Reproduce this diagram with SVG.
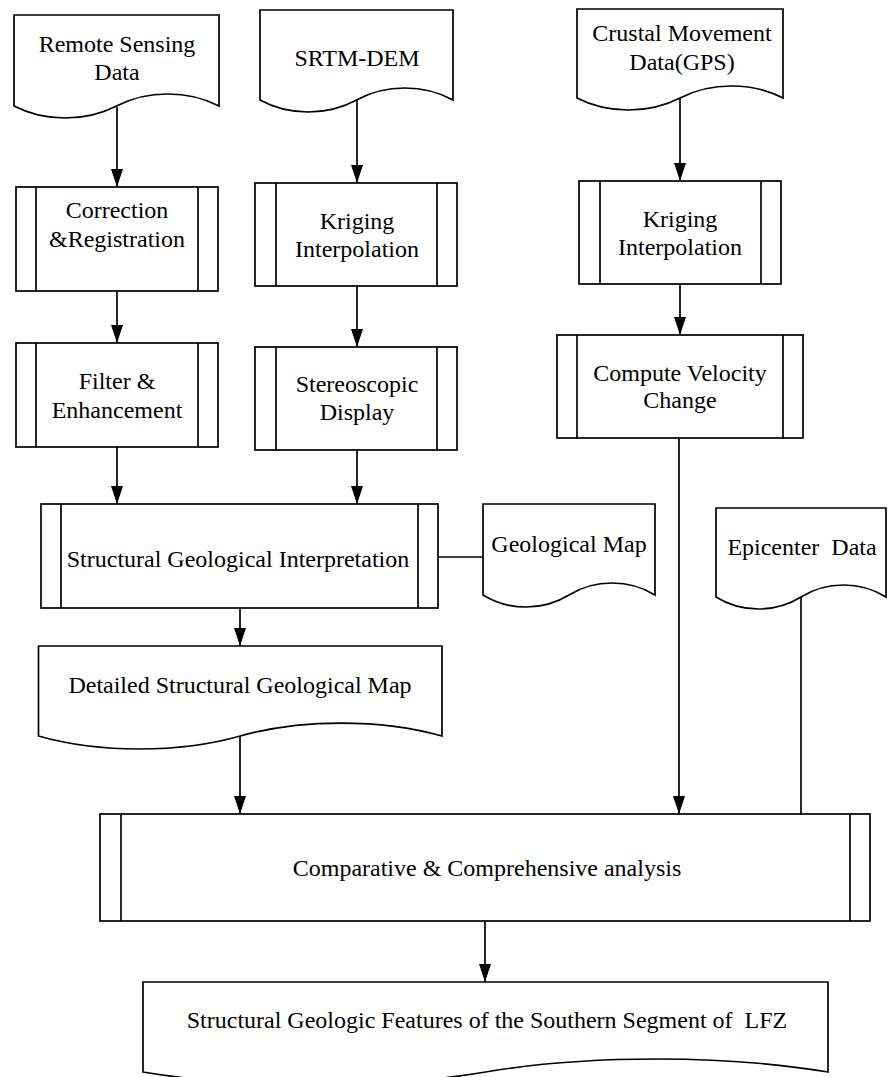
<svg xmlns="http://www.w3.org/2000/svg" width="888" height="1077" viewBox="0 0 888 1077">
<style>
.s{fill:#fff;stroke:#000;stroke-width:1.7}
.l{fill:none;stroke:#000;stroke-width:1.7}
.t{font-family:"Liberation Serif","Times New Roman",serif;font-size:24px;fill:#000;text-anchor:middle}
</style>
<defs>
<marker id="ah" markerUnits="userSpaceOnUse" markerWidth="18" markerHeight="12" viewBox="0 0 18 12" refX="18" refY="6" orient="auto">
<path d="M0,0 L18,6 L0,12 Z" fill="#000"/>
</marker>
</defs>
<rect width="888" height="1077" fill="#fff"/>

<g id="connectors">
<line class="l" x1="117" y1="107" x2="117" y2="187" marker-end="url(#ah)"/>
<line class="l" x1="117" y1="291" x2="117" y2="343" marker-end="url(#ah)"/>
<line class="l" x1="117" y1="447" x2="117" y2="504" marker-end="url(#ah)"/>
<line class="l" x1="357" y1="100" x2="357" y2="183" marker-end="url(#ah)"/>
<line class="l" x1="357" y1="286" x2="357" y2="347" marker-end="url(#ah)"/>
<line class="l" x1="357" y1="450" x2="357" y2="504" marker-end="url(#ah)"/>
<line class="l" x1="680" y1="98" x2="680" y2="181" marker-end="url(#ah)"/>
<line class="l" x1="680" y1="284" x2="680" y2="335" marker-end="url(#ah)"/>
<line class="l" x1="679" y1="438" x2="679" y2="814" marker-end="url(#ah)"/>
<line class="l" x1="438" y1="557" x2="483" y2="557"/>
<line class="l" x1="240" y1="608" x2="240" y2="646" marker-end="url(#ah)"/>
<line class="l" x1="240" y1="736" x2="240" y2="814" marker-end="url(#ah)"/>
<line class="l" x1="801" y1="597" x2="801" y2="814"/>
<line class="l" x1="485" y1="921" x2="485" y2="982" marker-end="url(#ah)"/>
</g>

<g id="remote-sensing-data">
<path class="s" d="M14,15 H219 V106 C188.25,90 147.25,90 116.5,106 C85.75,122 44.75,122 14,106 Z"/>
<text class="t" x="117" y="52">Remote Sensing</text>
<text class="t" x="117" y="80">Data</text>
</g>

<g id="srtm-dem">
<path class="s" d="M260,10 H453 V100 C424.05,84 385.45,84 356.5,100 C327.55,116 288.95,116 260,100 Z"/>
<text class="t" x="357" y="66">SRTM-DEM</text>
</g>

<g id="crustal-movement">
<path class="s" d="M577,9 H783 V98 C752.1,82 710.9,82 680,98 C649.1,114 607.9,114 577,98 Z"/>
<text class="t" x="682" y="41">Crustal Movement</text>
<text class="t" x="682" y="70">Data(GPS)</text>
</g>

<g id="correction">
<rect class="s" x="16" y="187" width="202" height="104"/>
<line class="l" x1="36" y1="187" x2="36" y2="291"/>
<line class="l" x1="198" y1="187" x2="198" y2="291"/>
<text class="t" x="117" y="218">Correction</text>
<text class="t" x="117" y="247">&amp;Registration</text>
</g>

<g id="filter">
<rect class="s" x="16" y="343" width="202" height="104"/>
<line class="l" x1="36" y1="343" x2="36" y2="447"/>
<line class="l" x1="198" y1="343" x2="198" y2="447"/>
<text class="t" x="117" y="389">Filter &amp;</text>
<text class="t" x="117" y="418">Enhancement</text>
</g>

<g id="kriging-1">
<rect class="s" x="255" y="183" width="202" height="103"/>
<line class="l" x1="276" y1="183" x2="276" y2="286"/>
<line class="l" x1="437" y1="183" x2="437" y2="286"/>
<text class="t" x="357" y="229">Kriging</text>
<text class="t" x="357" y="257">Interpolation</text>
</g>

<g id="stereoscopic">
<rect class="s" x="255" y="347" width="202" height="103"/>
<line class="l" x1="276" y1="347" x2="276" y2="450"/>
<line class="l" x1="437" y1="347" x2="437" y2="450"/>
<text class="t" x="357" y="392">Stereoscopic</text>
<text class="t" x="357" y="420">Display</text>
</g>

<g id="kriging-2">
<rect class="s" x="579" y="181" width="202" height="103"/>
<line class="l" x1="600" y1="181" x2="600" y2="284"/>
<line class="l" x1="761" y1="181" x2="761" y2="284"/>
<text class="t" x="680" y="227">Kriging</text>
<text class="t" x="680" y="255">Interpolation</text>
</g>

<g id="compute-velocity">
<rect class="s" x="557" y="335" width="246" height="103"/>
<line class="l" x1="577" y1="335" x2="577" y2="438"/>
<line class="l" x1="783" y1="335" x2="783" y2="438"/>
<text class="t" x="680" y="381">Compute Velocity</text>
<text class="t" x="680" y="408">Change</text>
</g>

<g id="structural-interpretation">
<rect class="s" x="41" y="504" width="397" height="104"/>
<line class="l" x1="61" y1="504" x2="61" y2="608"/>
<line class="l" x1="418" y1="504" x2="418" y2="608"/>
<text class="t" x="238" y="567">Structural Geological Interpretation</text>
</g>

<g id="geological-map">
<path class="s" d="M483,504 H655 V595 C629.2,579 594.8,579 569,595 C543.2,611 508.8,611 483,595 Z"/>
<text class="t" x="569" y="552">Geological Map</text>
</g>

<g id="epicenter-data">
<path class="s" d="M716,508 H886 V597 C860.5,581 826.5,581 801,597 C775.5,613 741.5,613 716,597 Z"/>
<text class="t" x="802" y="555" xml:space="preserve">Epicenter  Data</text>
</g>

<g id="detailed-map">
<path class="s" d="M38.5,646 H442 V736 C381.5,718.7 300.8,718.7 240.25,736 C179.7,753.3 99,753.3 38.5,736 Z"/>
<text class="t" x="240" y="693">Detailed Structural Geological Map</text>
</g>

<g id="comparative-analysis">
<rect class="s" x="100" y="814" width="770" height="107"/>
<line class="l" x1="121" y1="814" x2="121" y2="921"/>
<line class="l" x1="850" y1="814" x2="850" y2="921"/>
<text class="t" x="487" y="876">Comparative &amp; Comprehensive analysis</text>
</g>

<g id="structural-features">
<path class="s" d="M143,982 H828 V1072 C725.25,1054.7 588.25,1054.7 485.5,1072 C382.75,1089.3 245.75,1089.3 143,1072 Z"/>
<text class="t" x="487" y="1028" xml:space="preserve">Structural Geologic Features of the Southern Segment of  LFZ</text>
</g>
</svg>
